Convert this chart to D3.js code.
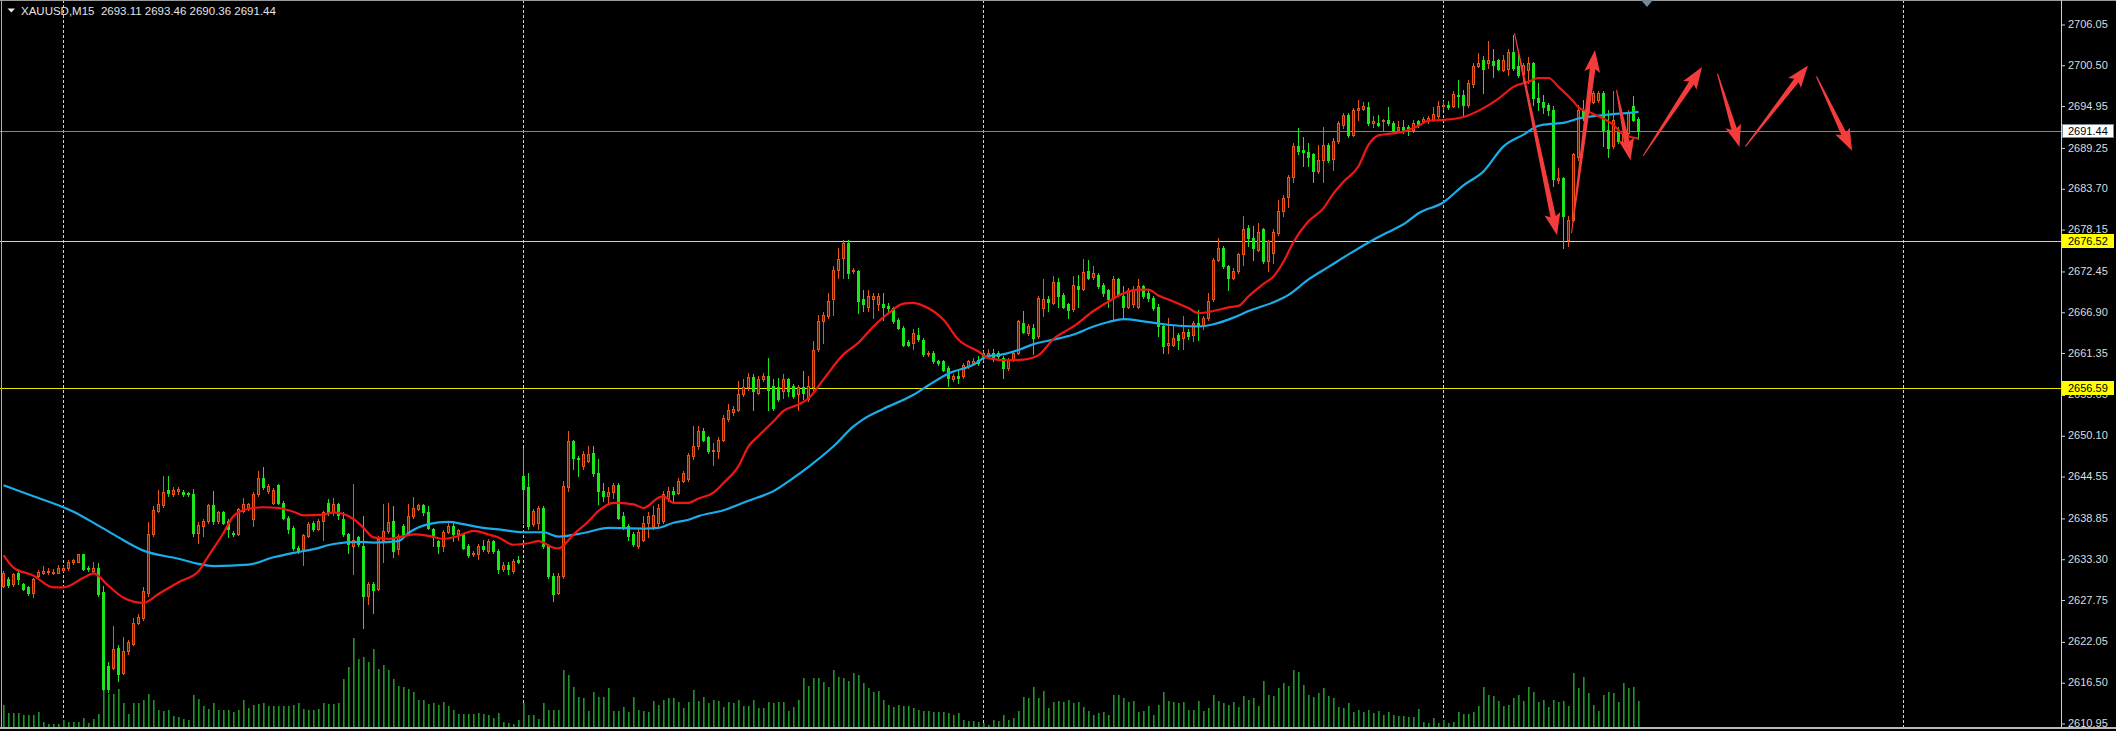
<!DOCTYPE html>
<html><head><meta charset="utf-8">
<script src="https://cdn.jsdelivr.net/npm/d3@7"></script>
<style>
html,body{margin:0;padding:0;background:#000;overflow:hidden}
svg{display:block}
text{font-family:"Liberation Sans",Arial,sans-serif}
</style></head><body>
<svg id="chart" width="2116" height="731"></svg>
<script>
// ---------------- data ----------------
const symbolLabel = "XAUUSD,M15";
const lastOHLC = [2693.11, 2693.46, 2690.36, 2691.44];

const opens = [
2629.6,2630.6,2629.8,2631.4,2629.8,2629.4,2628.7,2630.9,2631.4,2631.5,
2631.4,2631.4,2631.7,2632.0,2632.8,2632.9,2633.9,2632.1,2631.6,2632.1,
2628.8,2618.7,2618.5,2621.1,2617.8,2620.7,2621.7,2624.6,2625.3,2628.7,
2636.6,2639.8,2640.6,2642.7,2642.1,2642.5,2642.4,2642.2,2642.1,2636.8,
2637.8,2638.4,2640.6,2638.4,2639.6,2638.4,2636.8,2636.6,2639.8,2640.1,
2638.7,2642.1,2644.3,2642.5,2640.9,2643.3,2640.9,2638.9,2637.5,2634.8,
2634.6,2636.4,2638.1,2637.4,2638.5,2640.9,2639.6,2640.7,2638.7,2636.6,
2635.0,2636.2,2635.0,2628.2,2629.9,2629.2,2635.9,2637.1,2638.4,2634.6,
2637.8,2636.8,2639.1,2640.1,2640.6,2639.7,2637.3,2635.7,2635.0,2636.9,
2637.8,2636.6,2636.6,2635.0,2633.9,2633.9,2635.0,2634.4,2635.7,2634.4,
2631.9,2632.5,2631.6,2633.1,2644.6,2643.0,2638.0,2638.2,2640.2,2635.0,
2631.0,2628.7,2631.0,2643.0,2649.3,2647.0,2645.9,2646.6,2647.7,2645.0,
2642.5,2641.8,2642.4,2643.3,2639.1,2637.8,2636.6,2635.0,2635.9,2638.2,
2637.8,2638.2,2638.4,2641.6,2642.5,2642.3,2643.9,2644.1,2647.3,2648.6,
2650.7,2649.8,2647.9,2647.9,2649.5,2652.3,2653.2,2653.6,2655.7,2656.6,
2658.0,2655.9,2657.7,2658.1,2656.8,2656.6,2656.1,2657.7,2656.8,2655.7,
2656.6,2655.0,2656.6,2661.8,2665.6,2666.3,2668.6,2672.6,2674.2,2676.2,
2672.4,2672.4,2668.6,2667.6,2668.6,2667.9,2667.9,2667.7,2667.4,2665.8,
2664.7,2662.8,2662.7,2663.8,2663.1,2661.1,2661.3,2660.2,2660.2,2659.3,
2657.8,2658.2,2658.1,2659.5,2659.9,2660.4,2661.3,2660.9,2661.3,2661.3,
2660.6,2659.3,2660.4,2661.3,2665.4,2664.0,2664.7,2663.6,2667.4,2668.6,
2668.1,2671.0,2669.2,2667.9,2667.3,2670.4,2670.0,2672.4,2671.6,2671.9,
2670.5,2669.8,2668.8,2671.4,2669.0,2667.6,2668.0,2667.6,2670.4,2669.5,
2668.8,2667.6,2664.9,2662.4,2662.4,2663.8,2663.3,2664.2,2663.8,2665.4,
2664.9,2666.1,2668.6,2674.0,2675.6,2673.1,2671.5,2672.4,2674.7,2678.3,
2676.9,2675.3,2678.1,2673.8,2674.9,2677.6,2680.6,2682.5,2685.3,2689.5,
2688.9,2688.7,2688.3,2686.0,2687.6,2689.6,2687.7,2690.1,2692.3,2693.7,
2691.0,2694.4,2694.5,2694.7,2692.6,2692.6,2692.8,2693.0,2692.6,2691.6,
2692.1,2692.1,2691.6,2692.8,2692.8,2692.8,2693.0,2693.5,2694.9,2695.0,
2694.9,2696.4,2696.4,2695.0,2697.9,2700.3,2701.2,2700.8,2701.0,2701.1,
2699.8,2699.9,2702.3,2700.3,2699.3,2699.8,2700.7,2696.0,2695.5,2695.0,
2694.4,2684.8,2685.1,2676.7,2679.4,2688.0,2694.4,2694.1,2695.5,2695.7,
2696.7,2691.6,2689.4,2691.4,2689.9,2691.2,2694.9,2693.11];

const highs = [
2631.6,2630.8,2631.4,2631.9,2630.0,2629.6,2630.7,2631.8,2632.3,2632.1,
2631.9,2632.5,2632.3,2633.1,2633.3,2634.0,2634.0,2632.3,2632.9,2632.7,
2629.6,2619.2,2624.2,2621.5,2622.6,2622.3,2625.3,2625.8,2629.5,2638.3,
2640.5,2642.7,2644.5,2644.6,2643.1,2643.1,2642.6,2642.4,2642.8,2638.3,
2638.7,2640.8,2642.5,2639.8,2639.8,2638.7,2637.1,2640.2,2641.6,2640.9,
2642.4,2645.3,2645.8,2643.4,2642.9,2643.4,2641.1,2639.1,2637.8,2635.0,
2636.7,2638.3,2638.4,2638.7,2639.8,2641.4,2641.6,2640.9,2639.6,2636.8,
2643.4,2636.4,2639.1,2630.1,2630.1,2636.4,2640.7,2640.9,2640.5,2636.6,
2638.0,2640.7,2641.7,2640.8,2640.7,2640.5,2637.5,2635.9,2637.2,2638.4,
2638.1,2637.4,2636.8,2635.3,2634.4,2635.3,2635.9,2636.0,2635.9,2634.6,
2632.8,2632.8,2633.2,2633.7,2648.4,2645.0,2640.0,2640.5,2640.5,2635.3,
2631.4,2631.3,2643.9,2650.7,2649.5,2647.3,2647.9,2648.6,2648.6,2646.8,
2643.6,2643.0,2643.6,2643.6,2639.6,2638.0,2636.9,2637.5,2639.1,2639.6,
2640.5,2640.7,2642.5,2643.0,2643.0,2644.3,2645.2,2647.7,2651.3,2651.3,
2651.1,2650.0,2649.1,2649.8,2652.9,2654.3,2654.1,2657.5,2657.7,2658.6,
2658.4,2658.1,2658.6,2660.6,2657.7,2657.9,2658.4,2657.9,2657.1,2657.0,
2658.8,2658.1,2662.9,2666.5,2666.8,2669.5,2673.1,2675.6,2676.6,2676.6,
2672.9,2672.6,2669.9,2669.9,2669.5,2669.5,2669.5,2668.1,2667.6,2666.1,
2664.9,2663.1,2664.5,2664.7,2663.3,2661.5,2661.5,2660.4,2660.4,2659.5,
2658.4,2659.0,2659.9,2660.4,2660.6,2660.9,2661.5,2661.8,2661.8,2661.5,
2660.9,2660.6,2661.5,2665.8,2667.0,2665.2,2665.2,2669.0,2671.3,2669.0,
2671.7,2671.5,2669.5,2668.1,2671.7,2671.9,2674.1,2673.9,2673.1,2672.2,
2670.8,2670.0,2671.7,2671.5,2670.4,2670.1,2670.4,2671.3,2670.6,2669.8,
2669.0,2667.9,2665.2,2666.1,2664.9,2664.0,2666.3,2664.5,2665.6,2667.2,
2666.3,2669.5,2674.2,2676.9,2675.8,2673.3,2672.9,2674.9,2679.9,2678.7,
2678.5,2679.0,2678.3,2676.7,2678.1,2682.1,2682.8,2685.5,2689.8,2691.9,
2690.7,2689.8,2688.5,2689.6,2692.0,2689.8,2690.5,2692.8,2693.9,2694.0,
2694.6,2695.7,2695.5,2695.5,2693.5,2693.7,2693.1,2694.7,2692.8,2692.8,
2693.0,2692.3,2693.0,2693.0,2693.4,2693.5,2694.7,2695.6,2695.6,2695.6,
2696.9,2698.4,2697.1,2698.4,2700.7,2702.1,2701.7,2703.7,2702.7,2701.3,
2701.8,2702.7,2704.6,2702.1,2700.7,2701.6,2700.9,2698.0,2696.4,2695.3,
2694.9,2686.4,2685.3,2679.9,2688.5,2695.0,2695.7,2696.1,2696.9,2697.0,
2696.9,2694.4,2696.9,2692.1,2691.6,2694.4,2696.2,2693.46];

const lows = [
2629.4,2629.5,2629.6,2629.8,2629.0,2628.3,2628.1,2630.7,2631.2,2631.2,
2631.2,2631.3,2631.6,2631.8,2632.6,2632.8,2631.8,2631.6,2631.5,2628.2,
2615.5,2615.1,2618.3,2616.7,2617.6,2620.4,2621.5,2624.4,2625.0,2628.2,
2636.4,2639.6,2640.3,2641.8,2641.8,2642.1,2641.9,2641.9,2636.4,2635.5,
2636.4,2638.2,2638.0,2638.2,2638.0,2636.2,2636.4,2636.5,2639.7,2639.9,
2637.8,2641.8,2642.8,2642.3,2640.7,2640.7,2638.7,2636.8,2634.5,2634.1,
2632.5,2636.2,2637.1,2637.2,2635.9,2639.3,2639.3,2638.7,2636.4,2634.1,
2631.2,2635.0,2623.9,2627.1,2625.9,2629.0,2632.8,2636.8,2633.5,2633.9,
2636.2,2636.6,2638.9,2639.9,2639.3,2637.3,2635.0,2634.1,2634.4,2636.8,
2635.7,2635.9,2634.6,2633.6,2633.7,2633.2,2634.4,2634.1,2634.1,2631.4,
2631.6,2631.2,2631.4,2632.7,2638.2,2637.3,2637.8,2637.3,2634.8,2630.7,
2627.6,2628.5,2630.7,2642.5,2645.5,2644.5,2645.5,2646.4,2644.5,2640.7,
2641.1,2640.7,2641.6,2638.7,2637.3,2635.9,2635.0,2634.7,2635.7,2636.2,
2637.3,2637.8,2638.2,2641.2,2641.2,2642.1,2643.7,2643.9,2646.8,2648.2,
2649.3,2647.7,2646.1,2647.0,2649.3,2652.0,2652.9,2653.4,2655.4,2656.3,
2653.6,2655.7,2657.5,2653.6,2653.6,2654.7,2655.2,2655.4,2655.2,2653.6,
2655.0,2654.7,2656.3,2661.5,2662.7,2666.1,2666.5,2671.5,2671.5,2671.5,
2672.2,2666.7,2667.0,2667.0,2666.1,2667.2,2665.8,2667.0,2665.4,2664.5,
2662.2,2662.2,2661.8,2662.9,2660.9,2660.9,2659.9,2659.7,2658.8,2656.8,
2657.5,2657.2,2657.9,2659.3,2659.7,2659.7,2660.4,2660.6,2660.2,2660.4,
2657.9,2659.0,2660.2,2661.1,2664.0,2663.8,2661.1,2663.3,2666.3,2667.0,
2667.9,2667.6,2667.4,2666.1,2667.0,2667.6,2669.8,2671.3,2671.4,2670.1,
2669.0,2667.6,2665.8,2669.0,2666.1,2667.4,2667.6,2667.4,2668.8,2668.3,
2667.2,2663.6,2661.3,2661.3,2662.2,2661.8,2661.8,2663.2,2662.9,2663.1,
2664.5,2665.8,2668.3,2673.8,2672.9,2669.9,2671.3,2672.2,2673.3,2675.8,
2674.0,2675.1,2673.5,2672.4,2673.5,2677.4,2679.9,2681.2,2684.6,2688.3,
2686.7,2686.7,2684.6,2685.8,2684.6,2687.3,2686.2,2689.9,2691.9,2690.7,
2690.8,2693.0,2694.3,2692.3,2692.1,2692.2,2691.6,2692.3,2691.4,2691.4,
2691.2,2691.0,2691.4,2692.1,2692.6,2692.6,2692.8,2693.2,2694.5,2694.5,
2694.7,2694.8,2693.7,2694.7,2697.5,2700.2,2696.6,2700.0,2698.9,2699.8,
2699.6,2699.1,2699.8,2698.9,2698.2,2698.0,2695.0,2694.4,2693.9,2693.7,
2684.0,2684.4,2675.6,2675.9,2679.2,2687.6,2693.0,2693.9,2695.3,2695.5,
2689.4,2688.0,2689.2,2689.8,2689.6,2691.0,2692.8,2690.36];

const closes = [
2631.4,2629.7,2631.2,2630.5,2629.2,2628.6,2630.5,2631.5,2631.6,2631.6,
2631.5,2632.0,2632.1,2632.9,2633.1,2633.9,2631.9,2631.9,2632.1,2628.5,
2615.6,2615.6,2621.0,2617.6,2620.7,2622.0,2624.6,2625.4,2628.9,2636.6,
2639.9,2640.8,2642.4,2642.2,2642.7,2642.8,2642.1,2642.1,2636.8,2637.9,
2638.4,2640.6,2638.4,2639.6,2638.2,2637.3,2636.6,2640.0,2640.8,2640.7,
2642.1,2644.3,2643.1,2643.2,2642.7,2640.9,2638.9,2637.3,2634.7,2634.4,
2636.5,2638.0,2637.4,2638.5,2639.6,2639.6,2640.8,2639.3,2636.6,2635.3,
2635.9,2635.3,2628.2,2629.8,2629.1,2636.0,2637.1,2638.3,2634.4,2636.4,
2636.4,2639.1,2640.2,2640.6,2639.6,2637.5,2636.2,2635.0,2636.9,2637.8,
2636.6,2637.2,2634.8,2633.8,2634.1,2635.0,2634.6,2635.7,2634.4,2631.9,
2632.5,2631.9,2633.0,2632.9,2642.8,2637.8,2639.8,2640.2,2635.0,2630.9,
2628.5,2631.0,2643.2,2649.3,2647.0,2646.8,2647.5,2647.6,2645.0,2642.5,
2641.8,2642.4,2643.3,2638.9,2637.8,2636.4,2635.3,2636.9,2638.2,2639.1,
2639.3,2640.2,2642.1,2642.5,2642.1,2643.9,2645.0,2647.4,2648.6,2650.7,
2649.5,2647.9,2648.1,2649.5,2652.5,2653.6,2653.7,2655.7,2656.6,2658.0,
2656.1,2657.7,2658.2,2656.3,2653.8,2655.0,2657.7,2656.1,2655.4,2656.6,
2655.9,2656.8,2661.7,2665.6,2666.5,2668.3,2672.6,2674.1,2676.2,2672.2,
2672.6,2668.3,2667.9,2669.0,2669.0,2669.1,2667.6,2667.4,2665.6,2664.7,
2662.4,2662.4,2664.0,2663.2,2661.1,2661.3,2660.2,2659.9,2659.0,2657.9,
2658.1,2657.9,2659.7,2660.2,2660.2,2659.9,2660.9,2661.3,2660.6,2660.9,
2659.3,2660.4,2661.3,2665.6,2664.2,2664.9,2663.3,2668.8,2668.6,2668.2,
2671.0,2669.0,2667.6,2667.2,2670.5,2670.0,2672.3,2671.5,2672.2,2670.4,
2669.5,2668.6,2671.3,2669.2,2667.6,2669.9,2670.0,2670.4,2669.0,2668.8,
2667.4,2665.0,2662.2,2662.7,2663.3,2663.1,2664.2,2663.6,2665.4,2664.9,
2666.1,2668.3,2674.0,2675.6,2673.1,2671.5,2672.4,2674.7,2678.2,2676.9,
2675.6,2677.8,2673.8,2676.5,2677.7,2680.6,2682.4,2685.3,2689.5,2688.8,
2688.7,2688.0,2686.0,2687.6,2689.6,2687.6,2690.2,2692.6,2693.7,2691.0,
2694.4,2694.6,2694.9,2692.6,2692.8,2692.3,2693.0,2692.6,2691.6,2692.1,
2691.6,2691.7,2692.6,2692.3,2693.1,2693.2,2693.8,2694.9,2695.0,2694.7,
2696.5,2696.2,2695.0,2698.0,2700.3,2700.8,2699.9,2701.1,2700.5,2699.9,
2701.1,2702.3,2700.0,2699.1,2700.5,2700.8,2696.0,2695.5,2694.8,2694.4,
2684.9,2685.1,2679.9,2679.4,2688.3,2694.4,2693.5,2695.7,2696.6,2696.7,
2691.6,2689.2,2693.0,2690.1,2691.2,2693.9,2693.0,2691.44];

const volumes = [
22,14,14,14,12,12,12,15,5,3,
3,3,7,5,5,5,9,4,8,13,
37,33,33,38,24,13,24,24,27,33,
27,17,16,17,11,10,8,7,32,28,
21,18,24,17,17,17,15,17,27,19,
22,23,24,21,21,21,21,21,22,24,
18,17,17,18,24,23,23,24,48,60,
89,68,70,65,78,58,62,57,48,41,
40,38,35,27,27,23,24,22,25,21,
17,13,13,13,13,14,13,12,9,14,
5,4,3,7,24,12,12,8,24,17,
17,17,57,52,40,30,29,16,35,30,
30,39,16,16,20,15,30,17,16,15,
26,22,27,29,29,25,19,25,37,26,
30,24,27,26,20,25,24,27,21,21,
27,19,19,25,24,25,25,16,20,27,
49,41,49,49,45,40,57,50,49,46,
54,52,44,39,35,36,27,22,20,22,
21,21,19,17,16,16,15,15,15,14,
12,14,7,6,6,5,4,2,7,6,
12,7,9,16,30,29,40,29,36,19,
25,26,25,27,24,25,20,16,12,14,
15,12,32,32,29,25,26,15,16,21,
12,22,35,26,25,24,25,17,17,26,
16,19,32,26,24,22,25,20,31,27,
29,21,46,32,31,39,44,41,57,55,
42,32,30,34,39,31,29,20,19,24,
15,17,15,17,14,16,12,15,12,11,
11,10,10,18,5,4,9,4,7,4,
5,15,13,13,15,21,40,32,31,26,
21,22,29,32,26,40,35,25,27,20,
27,25,26,21,54,39,50,34,22,16,
32,35,34,25,44,39,40,26];

// fast (red) moving average, sampled at bar indices
const redMaIdx = [0,2,6,10,12,16,18,21,24,28,31,35,39,41,44,46,49,52,55,58,60,64,66,70,72,74,77,79,82,85,88,91,94,97,99,102,105,107,110,111,114,117,119,122,126,128,131,132,134,137,139,142,144,147,149,151,154,156,159,161,164,168,171,174,177,180,182,184,188,191,195,197,201,204,207,210,214,218,221,224,227,229,231,234,237,239,242,245,247,249,252,254,256,258,261,264,266,268,271,273,275,277,280,283,285,288,292,296,299,302,305,307,309,311,314,315,317,319,322,324,327];
const redMaVal = [2633.8,2632.1,2631.0,2629.4,2629.4,2630.7,2631.3,2629.6,2628.0,2627.3,2628.5,2630.1,2631.6,2633.7,2636.8,2639.1,2640.1,2640.3,2640.2,2639.7,2639.2,2639.3,2639.6,2638.7,2637.5,2636.2,2636.0,2636.2,2636.6,2636.4,2636.0,2636.4,2637.1,2636.6,2636.2,2635.2,2635.4,2635.7,2634.8,2634.7,2636.6,2638.4,2639.8,2640.9,2640.7,2640.2,2641.6,2641.8,2640.9,2640.9,2641.5,2642.3,2643.6,2645.9,2648.6,2650.0,2652.0,2653.4,2654.3,2655.1,2657.7,2661.1,2662.7,2664.9,2666.7,2668.0,2668.1,2667.7,2665.8,2663.1,2661.5,2660.6,2660.3,2660.4,2661.0,2663.2,2664.9,2667.0,2668.3,2669.4,2669.9,2669.9,2669.1,2668.3,2667.4,2666.7,2667.0,2667.5,2667.7,2669.0,2670.7,2671.7,2673.7,2676.4,2679.2,2681.0,2683.0,2684.6,2686.7,2689.6,2690.9,2691.1,2691.4,2692.2,2692.9,2693.0,2693.4,2694.6,2695.9,2697.5,2698.2,2698.7,2698.7,2697.5,2695.5,2694.7,2694.1,2693.5,2692.3,2691.0,2690.5];

// slow (blue) moving average, sampled at bar indices
const blueMaIdx = [0,6,14,19,23,28,35,39,42,49,54,58,62,66,71,74,79,81,85,89,92,96,99,104,108,111,116,121,128,131,134,137,139,144,149,154,158,161,166,170,172,176,182,185,189,194,197,199,203,206,210,214,218,221,224,228,231,235,239,242,246,249,254,257,261,265,269,274,278,280,283,288,292,296,300,304,307,310,312,315,319,322,324,327];
const blueMaVal = [2643.3,2641.8,2639.7,2637.8,2636.2,2634.4,2633.3,2632.6,2632.3,2632.5,2633.5,2634.1,2634.6,2635.3,2635.6,2635.5,2635.7,2636.8,2638.0,2638.3,2638.0,2637.5,2637.3,2636.9,2636.9,2636.3,2636.8,2637.5,2637.4,2637.5,2638.2,2638.6,2639.1,2639.9,2641.2,2642.5,2644.3,2645.8,2648.6,2651.3,2652.3,2653.7,2655.6,2656.9,2658.5,2659.7,2660.9,2661.0,2661.7,2662.5,2663.1,2663.8,2664.9,2665.5,2665.9,2665.6,2665.3,2665.0,2664.9,2665.2,2666.1,2667.0,2668.2,2669.2,2671.3,2673.0,2674.7,2676.7,2678.1,2678.8,2680.3,2681.8,2684.1,2686.0,2689.4,2691.0,2692.2,2692.5,2692.6,2693.2,2693.6,2693.8,2693.9,2694.1];

const priceTicks = [2706.05,2700.50,2694.95,2689.25,2683.70,2678.15,2672.45,2666.90,2661.35,2655.65,2650.10,2644.55,2638.85,2633.30,2627.75,2622.05,2616.50,2610.95];
const levelPrices = [2676.52, 2656.59];
const bidPrice = 2691.44;
const separatorIdx = [12, 104, 196, 288, 380];

// hand-drawn arrows (bar index / price of tail and tip)
const arrowTailIdx   = [302.2, 313.6, 322.6, 327.9, 342.8, 348.4, 362.6];
const arrowTailPrice = [2704.8, 2677.6, 2697.1, 2688.1, 2699.3, 2689.4, 2698.9];
const arrowTipIdx    = [310.7, 318.3, 325.4, 339.7, 347.2, 360.9, 369.7];
const arrowTipPrice  = [2677.3, 2702.5, 2687.5, 2700.2, 2689.3, 2700.4, 2688.8];
const shiftMarkerIdx = 328.7;

// ---------------- drawing ----------------
const W = 2116, H = 731, axisX = 2061, bottomY = 728;
const svg = d3.select('#chart');
svg.append('rect').attr('width', W).attr('height', H).attr('fill', '#000');

const x = d3.scaleLinear().domain([0, 327]).range([3, 1638]);       // pixel column of bar
const y = d3.scaleLinear().domain([2610.95, 2706.05]).range([723, 24]);
const vy = d3.scaleLinear().domain([0, 100]).range([727, 627]);

svg.append('defs').append('clipPath').attr('id', 'clip')
  .append('rect').attr('x', 0).attr('y', 0).attr('width', axisX).attr('height', bottomY);
const plot = svg.append('g').attr('clip-path', 'url(#clip)');

// period separators
plot.append('g').selectAll('line').data(separatorIdx).join('line')
  .attr('x1', d => x(d) + 0.5).attr('x2', d => x(d) + 0.5)
  .attr('y1', 0).attr('y2', bottomY)
  .attr('stroke', '#cfcfcf').attr('stroke-width', 1).attr('stroke-dasharray', '3,2');

// volumes
plot.append('g').selectAll('rect').data(volumes).join('rect')
  .attr('x', (d, i) => x(i)).attr('width', 1.6)
  .attr('y', d => vy(d)).attr('height', d => vy(0) - vy(d))
  .attr('fill', '#20932a');

// horizontal level lines
plot.append('g').selectAll('line').data(levelPrices).join('line')
  .attr('x1', 0).attr('x2', axisX)
  .attr('y1', d => Math.round(y(d)) + 0.5).attr('y2', d => Math.round(y(d)) + 0.5)
  .attr('stroke', '#e8e800').attr('stroke-width', 1.2);
plot.append('line').attr('x1', 0).attr('x2', axisX)
  .attr('y1', Math.round(y(bidPrice)) + 0.5).attr('y2', Math.round(y(bidPrice)) + 0.5)
  .attr('stroke', '#778899').attr('stroke-width', 1);

// candles
const bars = d3.range(closes.length).map(i => ({i, o: opens[i], h: highs[i], l: lows[i], c: closes[i], up: closes[i] > opens[i]}));
const GREEN = '#1ee61e', ORANGE = '#e8561a', DARK = '#6a1f07';
const cg = plot.append('g').attr('shape-rendering', 'crispEdges');
cg.selectAll('line').data(bars).join('line')
  .attr('x1', d => x(d.i) + 0.5).attr('x2', d => x(d.i) + 0.5)
  .attr('y1', d => Math.round(y(Math.max(d.h, d.o, d.c))))
  .attr('y2', d => Math.round(y(Math.min(d.l, d.o, d.c))) + 1)
  .attr('stroke', d => d.up ? ORANGE : GREEN).attr('stroke-width', 1);
function bodyTop(d) { return Math.round(y(Math.max(d.o, d.c))); }
function bodyH(d) { return Math.max(1, Math.round(y(Math.min(d.o, d.c))) - bodyTop(d) + 1); }
cg.selectAll('rect.body').data(bars).join('rect').attr('class', 'body')
  .attr('x', d => x(d.i) - 1).attr('width', 3)
  .attr('y', bodyTop).attr('height', bodyH)
  .attr('fill', d => d.up ? ORANGE : GREEN);
cg.selectAll('rect.inner').data(bars.filter(d => d.up && bodyH(d) > 2)).join('rect').attr('class', 'inner')
  .attr('x', d => x(d.i)).attr('width', 1)
  .attr('y', d => bodyTop(d) + 1).attr('height', d => bodyH(d) - 2)
  .attr('fill', DARK);

// moving averages
const maLine = d3.line().x(d => x(d[0]) + 0.5).y(d => y(d[1])).curve(d3.curveMonotoneX);
plot.append('path').datum(blueMaIdx.map((k, j) => [k, blueMaVal[j]]))
  .attr('d', maLine).attr('fill', 'none').attr('stroke', '#19aeea').attr('stroke-width', 2.2);
plot.append('path').datum(redMaIdx.map((k, j) => [k, redMaVal[j]]))
  .attr('d', maLine).attr('fill', 'none').attr('stroke', '#f01616').attr('stroke-width', 2.2);

// arrows
function arrowPath(x1, y1, x2, y2) {
  const dx = x2 - x1, dy = y2 - y1, len = Math.hypot(dx, dy);
  const ux = dx / len, uy = dy / len, px = -uy, py = ux;
  const headL = 19, headW = 8, shaftW = 2.8, tailW = 0.5, sweep = 3;
  const bx = x2 - ux * headL, by = y2 - uy * headL;
  const pts = [
    [x1 + px * tailW, y1 + py * tailW],
    [bx + px * shaftW, by + py * shaftW],
    [bx - ux * sweep + px * headW, by - uy * sweep + py * headW],
    [x2, y2],
    [bx - ux * sweep - px * headW, by - uy * sweep - py * headW],
    [bx - px * shaftW, by - py * shaftW],
    [x1 - px * tailW, y1 - py * tailW]
  ];
  return 'M' + pts.map(p => p[0].toFixed(1) + ',' + p[1].toFixed(1)).join('L') + 'Z';
}
plot.append('g').selectAll('path').data(d3.range(arrowTipIdx.length)).join('path')
  .attr('d', j => arrowPath(x(arrowTailIdx[j]) + 0.5, y(arrowTailPrice[j]), x(arrowTipIdx[j]) + 0.5, y(arrowTipPrice[j])))
  .attr('fill', '#f53c3c');

// frame
const frame = svg.append('g').attr('shape-rendering', 'crispEdges');
frame.append('line').attr('x1', 0).attr('x2', W).attr('y1', 0.5).attr('y2', 0.5).attr('stroke', '#9a9a9a');
frame.append('line').attr('x1', 1.5).attr('x2', 1.5).attr('y1', 0).attr('y2', bottomY).attr('stroke', '#b0b0b0');
frame.append('rect').attr('x', 0).attr('y', bottomY - 1).attr('width', W).attr('height', 2).attr('fill', '#b8b8b8');

// price axis
const axisG = svg.append('g').attr('transform', `translate(${axisX},0)`)
  .call(d3.axisRight(y).tickValues(priceTicks).tickSize(4).tickPadding(3).tickFormat(d => d.toFixed(2)));
axisG.select('.domain').remove();
axisG.selectAll('.tick line').attr('stroke', '#d0d0d0').attr('transform', 'translate(0,0.5)');
axisG.selectAll('.tick text').attr('fill', '#dcdcdc').attr('font-size', 11)
  .attr('font-family', '"Liberation Sans", Arial, sans-serif');
svg.append('line').attr('x1', axisX + 0.5).attr('x2', axisX + 0.5).attr('y1', 0).attr('y2', bottomY)
  .attr('stroke', '#d0d0d0').attr('shape-rendering', 'crispEdges');

// price labels on axis
const tags = levelPrices.map(p => ({p, bg: '#ffff00', stroke: '#ffff00'})).concat([{p: bidPrice, bg: '#ffffff', stroke: '#778899'}]);
const tagG = svg.append('g').selectAll('g').data(tags).join('g')
  .attr('transform', d => `translate(${axisX + 1},${Math.round(y(d.p))})`);
tagG.append('rect').attr('x', 0.5).attr('y', -6.5).attr('width', 51).attr('height', 13)
  .attr('fill', d => d.bg).attr('stroke', d => d.stroke).attr('shape-rendering', 'crispEdges');
tagG.append('text').attr('x', 6).attr('y', 4.2).attr('font-size', 11).attr('fill', '#000')
  .text(d => d.p.toFixed(2));

// chart shift marker
const sx = x(shiftMarkerIdx) + 0.5;
svg.append('path').attr('d', `M${sx - 6},0L${sx + 6},0L${sx},7Z`).attr('fill', '#778899');

// title
svg.append('path').attr('d', 'M7.5,8.5L15,8.5L11.25,12.5Z').attr('fill', '#e8e8e8');
svg.append('text').attr('x', 21).attr('y', 14.5).attr('font-size', 11.5).attr('fill', '#e4e4e4')
  .style('white-space', 'pre')
  .text(symbolLabel + '  ' + lastOHLC.map(v => v.toFixed(2)).join(' '));
</script>
</body></html>
